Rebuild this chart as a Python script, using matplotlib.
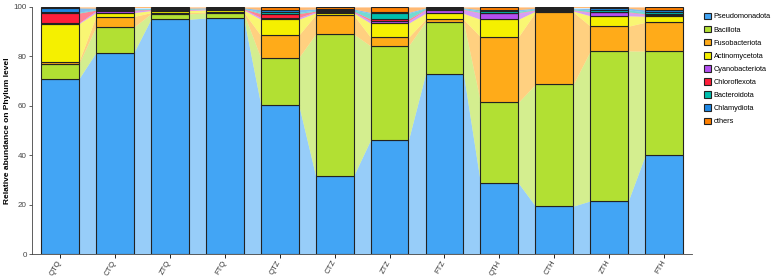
import matplotlib.pyplot as plt
import numpy as np

plt.rcParams['font.family'] = ['Liberation Sans', 'DejaVu Sans']

samples = ['QTQ', 'CTQ', 'ZTQ', 'FTQ', 'QTZ', 'CTZ', 'ZTZ', 'FTZ', 'QTH', 'CTH', 'ZTH', 'FTH']
phyla = ['Pseudomonadota', 'Bacillota', 'Fusobacteriota', 'Actinomycetota', 'Cyanobacteriota',
         'Chloroflexota', 'Bacteroidota', 'Chlamydiota', 'others']

pseudomonadota = [70.9, 81.5, 95.0, 95.5, 60.5, 31.6, 46.2, 72.9, 28.7, 19.4, 21.5, 40.1]
bacillota      = [6.1, 10.3, 2.2, 2.0, 18.9, 57.4, 38.0, 21.1, 32.7, 49.3, 60.7, 42.0]
fusobacteriota = [0.8, 4.3, 0.5, 0.4, 9.1, 7.8, 3.5, 1.0, 26.5, 29.2, 10.0, 11.7]
actinomycetota = [15.4, 1.6, 0.8, 0.9, 6.5, 0.8, 5.7, 2.4, 7.1, 0.4, 4.2, 2.4]
cyanobacteriota = [0.3, 0.7, 0.3, 0.3, 0.7, 0.4, 0.9, 1.4, 2.5, 0.3, 1.4, 0.7]
chloroflexota  = [4.0, 0.3, 0.2, 0.1, 1.6, 0.3, 0.8, 0.2, 0.2, 0.2, 0.2, 0.3]
bacteroidota   = [0.3, 0.4, 0.3, 0.2, 0.5, 0.4, 2.3, 0.3, 0.6, 0.4, 0.8, 0.8]
chlamydiota    = [1.8, 0.4, 0.2, 0.2, 1.1, 0.5, 0.4, 0.3, 0.6, 0.3, 0.7, 0.8]
others         = [0.4, 0.5, 0.5, 0.4, 1.1, 0.8, 2.2, 0.4, 1.1, 0.5, 0.5, 1.2]

colors = ['#42A5F5', '#B2E033', '#FFAB19', '#F5F000', '#B44FF0',
          '#FF1F3A', '#00BFAE', '#1E88E5', '#FF8000']

data = np.array([pseudomonadota, bacillota, fusobacteriota, actinomycetota, cyanobacteriota,
                 chloroflexota, bacteroidota, chlamydiota, others])
data = data / data.sum(axis=0) * 100
tops = np.cumsum(data, axis=0)
bottoms = tops - data

fig = plt.figure(figsize=(7.72, 2.77), dpi=100)
ax = fig.add_axes([0.042, 0.083, 0.854, 0.892])

x = np.arange(len(samples))
w = 0.69

for k, name in enumerate(phyla):
    ax.bar(x, data[k], bottom=bottoms[k], width=w, color=colors[k],
           edgecolor='#222222', linewidth=0.8, label=name, zorder=3)
    for i in range(len(samples) - 1):
        ax.fill_between([x[i] + w / 2, x[i + 1] - w / 2],
                        [bottoms[k, i], bottoms[k, i + 1]],
                        [tops[k, i], tops[k, i + 1]],
                        color=colors[k], alpha=0.55, linewidth=0, zorder=1)

ax.set_xlim(-0.5, len(samples) - 0.5)
ax.set_ylim(0, 100)
ax.set_yticks([0, 20, 40, 60, 80, 100])
ax.set_xticks(x)
ax.set_xticklabels(samples, rotation=60, fontsize=5.5, color='#333333',
                   ha='right', va='center', rotation_mode='anchor')
ax.tick_params(axis='y', labelsize=5.8, colors='#444444', length=2.5, width=0.6, pad=1.5)
ax.tick_params(axis='x', length=3, width=0.6, pad=2)
for s in ['top', 'right']:
    ax.spines[s].set_visible(False)
for s in ['left', 'bottom']:
    ax.spines[s].set_linewidth(0.6)
    ax.spines[s].set_color('#444444')
ax.set_ylabel('Relative abundance on Phylum level', fontsize=6, fontweight='bold', labelpad=2)

handles, labels = ax.get_legend_handles_labels()
fig.legend(handles, labels, loc='upper left', bbox_to_anchor=(0.908, 0.965),
           fontsize=5.3, frameon=False, handlelength=1.0, handleheight=1.0,
           handletextpad=0.35, labelspacing=0.72, borderaxespad=0)

fig.savefig('out.png', dpi=100)
